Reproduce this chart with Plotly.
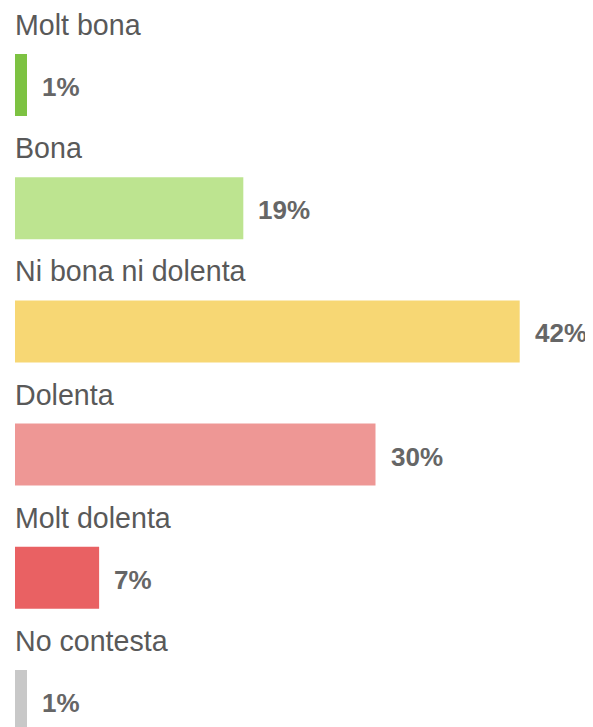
import plotly.graph_objects as go

categories = ["Molt bona", "Bona", "Ni bona ni dolenta", "Dolenta", "Molt dolenta", "No contesta"]
values = [1, 19, 42, 30, 7, 1]
labels = ["1%", "19%", "42%", "30%", "7%", "1%"]
colors = ["#7DC242", "#BDE490", "#F7D774", "#EE9795", "#E96163", "#C8C8C8"]

fig = go.Figure()
fig.add_trace(go.Bar(
    x=values, y=categories, orientation="h",
    marker=dict(color=colors, line=dict(width=0)),
    width=0.503, hoverinfo="skip",
))

annotations = []
for c, v, t in zip(categories, values, labels):
    annotations.append(dict(
        x=0, y=c, xref="x", yref="y", text=c, showarrow=False,
        xanchor="left", yanchor="middle", yshift=60, xshift=-2,
        font=dict(family="Liberation Sans, Arial", size=28.6, color="#595959"),
    ))
    annotations.append(dict(
        x=v, y=c, xref="x", yref="y", text="<b>%s</b>" % t, showarrow=False,
        xanchor="left", yanchor="middle", xshift=13, yshift=-2,
        font=dict(family="Liberation Sans, Arial", size=26, color="#666666"),
    ))

fig.update_layout(
    width=585, height=719,
    margin=dict(l=7, r=0, t=0, b=0),
    paper_bgcolor="white", plot_bgcolor="white",
    showlegend=False,
    annotations=annotations,
    xaxis=dict(range=[0, 48.1], visible=False, fixedrange=True),
    yaxis=dict(range=[5.211, -0.625], visible=False, fixedrange=True,
               categoryorder="array", categoryarray=categories),
)

fig.write_html("out.html", config={"displayModeBar": False})
